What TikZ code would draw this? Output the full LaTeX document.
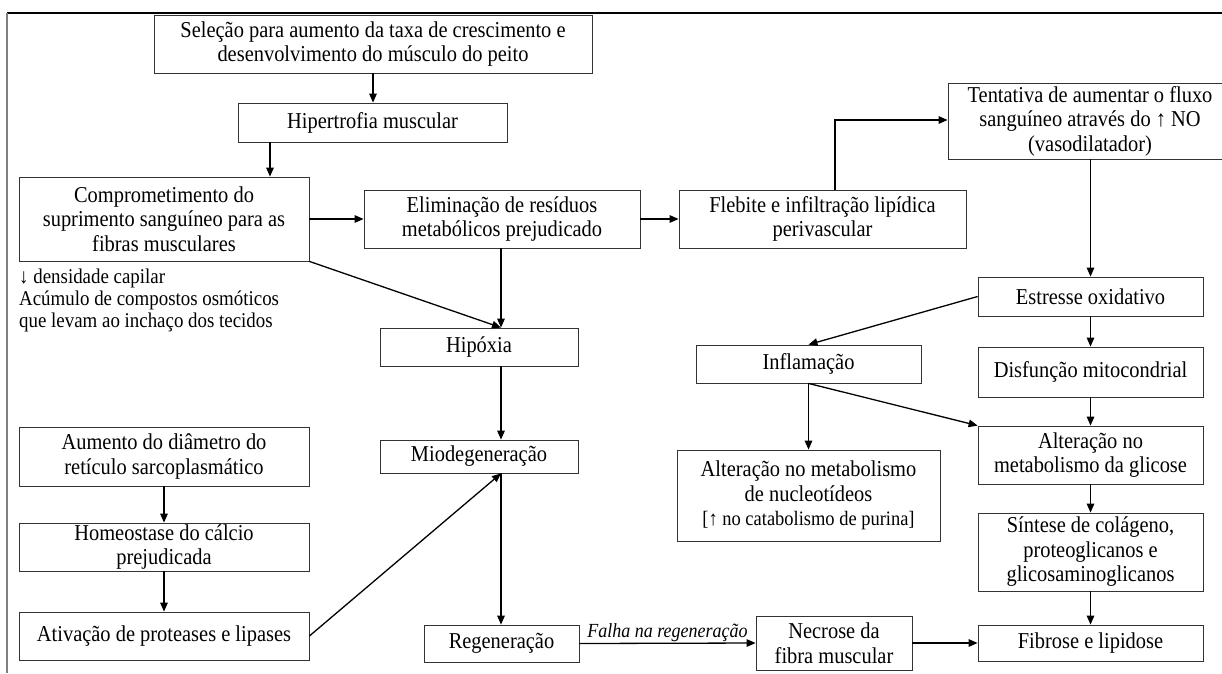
\documentclass[tikz,border=0pt]{standalone}
\usepackage{fontspec}
\setmainfont{Liberation Serif}[FakeStretch=0.9]
\usetikzlibrary{arrows.meta}
\begin{document}
\begin{tikzpicture}[x=1pt,y=-1pt,
  box/.style={draw=black!80, line width=0.8pt, align=center, inner sep=0pt,
    font=\fontsize{22.7}{24.5}\selectfont},
  arr/.style={line width=1.3pt, -{Triangle[length=9pt,width=7.5pt]}},
  frameline/.style={line width=1.2pt}]
\clip (0,0) rectangle (1222,673);
\draw[frameline] (7,13) -- (1222,13);
\draw[line width=1.6pt, black!50] (7,13) -- (7,673);

% nodes
\node[box, minimum width=438pt, minimum height=58pt] (sel) at (373,44)
  {Seleção para aumento da taxa de crescimento e\\desenvolvimento do músculo do peito};
\node[box, minimum width=269pt, minimum height=39pt] (hip) at (372.5,122.5)
  {Hipertrofia muscular};
\node[box, minimum width=290pt, minimum height=84pt] (comp) at (164,219)
  {Comprometimento do\\suprimento sanguíneo para as\\fibras musculares};
\node[box, minimum width=276pt, minimum height=58pt] (elim) at (502,219)
  {Eliminação de resíduos\\metabólicos prejudicado};
\node[box, minimum width=287pt, minimum height=58pt] (fleb) at (822.5,219)
  {Flebite e infiltração lipídica\\perivascular};
\node[box, minimum width=284pt, minimum height=76pt] (tent) at (1090,121)
  {Tentativa de aumentar o fluxo\\sanguíneo através do ↑ NO\\(vasodilatador)};
\node[box, minimum width=225pt, minimum height=39pt] (est) at (1090.5,296.5)
  {Estresse oxidativo};
\node[box, minimum width=198pt, minimum height=38pt] (hipox) at (479,347)
  {Hipóxia};
\node[box, minimum width=225pt, minimum height=38pt] (infl) at (808.5,364)
  {Inflamação};
\node[box, minimum width=225pt, minimum height=50pt] (disf) at (1090.5,372)
  {Disfunção mitocondrial};
\node[box, minimum width=198pt, minimum height=33pt] (mio) at (479,456.5)
  {Miodegeneração};
\node[box, minimum width=290pt, minimum height=59pt] (aum) at (164,456.5)
  {Aumento do diâmetro do\\retículo sarcoplasmático};
\node[box, minimum width=290pt, minimum height=48pt] (homeo) at (164,547)
  {Homeostase do cálcio\\prejudicada};
\node[box, minimum width=290pt, minimum height=48pt] (ativ) at (164,636)
  {Ativação de proteases e lipases};
\node[box, minimum width=263pt, minimum height=91pt] (altnuc) at (808.5,495.5)
  {Alteração no metabolismo\\de nucleotídeos\\{\fontsize{20.5}{24}\selectfont [↑ no catabolismo de purina]}};
\node[box, minimum width=225pt, minimum height=58pt] (altgli) at (1090.5,455)
  {Alteração no\\metabolismo da glicose};
\node[box, minimum width=225pt, minimum height=78pt] (sint) at (1090.5,552)
  {Síntese de colágeno,\\proteoglicanos e\\glicosaminoglicanos};
\node[box, minimum width=155pt, minimum height=37pt] (regen) at (501.5,643.5)
  {Regeneração};
\node[box, minimum width=156pt, minimum height=54pt] (necr) at (834,643)
  {Necrose da\\fibra muscular};
\node[box, minimum width=225pt, minimum height=36pt] (fib) at (1090.5,643)
  {Fibrose e lipidose};

\node[anchor=west, align=left, inner sep=0pt, font=\fontsize{21}{22}\selectfont] (note) at (19,300)
  {↓ densidade capilar\\Acúmulo de compostos osmóticos\\que levam ao inchaço dos tecidos};

\coordinate (colx) at (501,0);
\coordinate (flx) at (835,0);
\coordinate (hcx) at (270,0);

% connectors
\draw[arr] (sel.south) -- (hip.north -| sel.south);
\draw[arr] (hip.south -| hcx) -- (comp.north -| hcx);
\draw[arr] (comp.east) -- (elim.west);
\draw[arr] (elim.east) -- (fleb.west);
\draw[arr] (fleb.north -| flx) |- (tent.west |- 0,120);
\draw[arr] (comp.south east) -- (colx |- hipox.north);
\draw[arr] (elim.south -| colx) -- (colx |- hipox.north);
\draw[arr] (colx |- hipox.south) -- (colx |- mio.north);
\draw[arr] (ativ.east) -- (colx |- mio.south);
\draw[arr] (colx |- mio.south) -- (colx |- regen.north);
\draw[arr] (aum.south) -- (homeo.north);
\draw[arr] (homeo.south) -- (ativ.north);
\draw[arr] (regen.east) -- node[above=0pt, inner sep=1pt, font=\fontsize{20}{20}\selectfont\itshape] (falha) {Falha na regeneração} (necr.west);
\draw[arr] (necr.east) -- (fib.west);
\draw[arr] (tent.south -| est.north) -- (est.north);
\draw[arr] (est.west) -- (infl.north);
\draw[arr] (est.south) -- (disf.north);
\draw[arr] (disf.south) -- (altgli.north);
\draw[arr] (altgli.south) -- (sint.north);
\draw[arr] (sint.south) -- (fib.north);
\draw[arr] (infl.south) -- (altnuc.north);
\draw[arr] (infl.south) -- (altgli.north west);
\end{tikzpicture}
\end{document}
